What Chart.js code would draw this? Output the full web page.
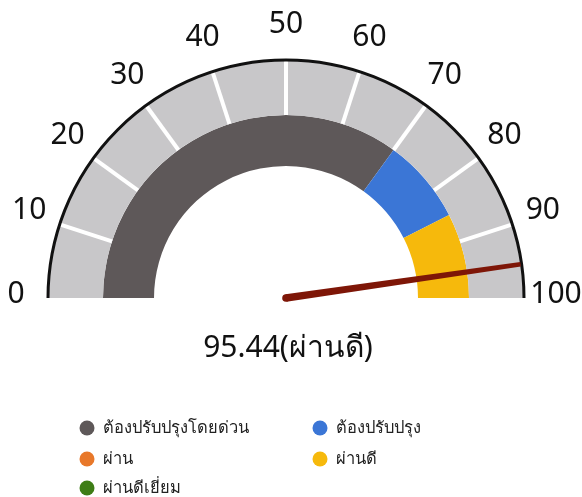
<!DOCTYPE html>
<html>
<head>
<meta charset="utf-8">
<script src="https://cdn.jsdelivr.net/npm/chart.js@4.4.1/dist/chart.umd.min.js"></script>
<style>
  html, body { margin: 0; padding: 0; background: #ffffff; }
  #wrap { width: 582px; height: 497px; position: relative; }
</style>
</head>
<body>
<div id="wrap"><canvas id="c" width="582" height="497"></canvas></div>
<script>
// ---- data ----
const categories = ['ต้องปรับปรุงโดยด่วน', 'ต้องปรับปรุง', 'ผ่าน', 'ผ่านดี', 'ผ่านดีเยี่ยม'];
const bandValues = [70, 15, 0, 15, 0];
const categoryColors = ['#5e5859', '#3b76d6', '#e8782a', '#f6b90c', '#3e7d16'];
const scaleMax = 100;
const trackValues = [100];
const tickValues = [10, 20, 30, 40, 50, 60, 70, 80, 90];
const tickLabels = ['0', '10', '20', '30', '40', '50', '60', '70', '80', '90', '100'];
const gaugeValue = 95.44;
const gaugeText = '95.44(ผ่านดี)';

const FONT = "'Noto Sans', 'Open Sans', sans-serif";

const gaugeExtras = {
  id: 'gaugeExtras',
  afterDatasetsDraw(chart) {
    const ctx = chart.ctx;
    const outerArc = chart.getDatasetMeta(0).data[0];
    const bandArc = chart.getDatasetMeta(1).data[0];
    const cx = outerArc.x, cy = outerArc.y;
    const R = outerArc.outerRadius;
    const rBand = bandArc.outerRadius;
    const ang = v => Math.PI + (v / scaleMax) * Math.PI;

    ctx.save();
    // white tick separators
    ctx.strokeStyle = '#ffffff';
    ctx.lineWidth = 4;
    tickValues.forEach(v => {
      const a = ang(v);
      ctx.beginPath();
      ctx.moveTo(cx + rBand * Math.cos(a), cy + rBand * Math.sin(a));
      ctx.lineTo(cx + R * Math.cos(a), cy + R * Math.sin(a));
      ctx.stroke();
    });
    // black outer rim
    ctx.strokeStyle = '#111111';
    ctx.lineWidth = 3;
    ctx.beginPath();
    ctx.arc(cx, cy, R, Math.PI, 2 * Math.PI);
    ctx.stroke();

    // tick labels
    ctx.fillStyle = '#111111';
    ctx.font = '30px ' + FONT;
    ctx.textAlign = 'center';
    ctx.textBaseline = 'middle';
    tickLabels.forEach((t, i) => {
      const v = i * scaleMax / (tickLabels.length - 1);
      const a = ang(v);
      const r = R + 32;
      ctx.fillText(t, cx + r * Math.cos(a), cy + r * Math.sin(a) - 4);
    });

    // needle
    const a = ang(gaugeValue);
    const len = R - 1;
    const nx = Math.cos(a), ny = Math.sin(a);
    const px = -ny, py = nx;
    const w0 = 3.8, w1 = 2.3;
    ctx.fillStyle = '#7e1607';
    ctx.beginPath();
    ctx.moveTo(cx + px * w0, cy + py * w0);
    ctx.lineTo(cx + nx * len + px * w1, cy + ny * len + py * w1);
    ctx.lineTo(cx + nx * len - px * w1, cy + ny * len - py * w1);
    ctx.lineTo(cx - px * w0, cy - py * w0);
    ctx.closePath();
    ctx.fill();
    ctx.beginPath();
    ctx.arc(cx, cy, w0, 0, 2 * Math.PI);
    ctx.fill();

    // value text
    ctx.fillStyle = '#111111';
    ctx.font = '30px ' + FONT;
    ctx.fillText(gaugeText, cx + 2, cy + 50);

    // legend (two-column grid)
    const bandDs = chart.data.datasets[1];
    const cols = [87, 320];
    const rows = [428, 459, 488];
    ctx.font = '16.5px ' + FONT;
    ctx.textAlign = 'left';
    chart.data.labels.forEach((lab, i) => {
      const col = i % 2, row = Math.floor(i / 2);
      const x = cols[col], y = rows[row];
      ctx.fillStyle = bandDs.backgroundColor[i];
      ctx.beginPath();
      ctx.arc(x, y, 7.5, 0, 2 * Math.PI);
      ctx.fill();
      ctx.fillStyle = '#222222';
      ctx.fillText(lab, x + 16, y);
    });
    ctx.restore();
  }
};

new Chart(document.getElementById('c'), {
  type: 'doughnut',
  data: {
    labels: categories,
    datasets: [
      { data: trackValues, backgroundColor: ['#c8c7c9'], borderWidth: 0, weight: 55 },
      { data: bandValues, backgroundColor: categoryColors, borderWidth: 0, weight: 51 }
    ]
  },
  options: {
    responsive: false,
    animation: false,
    events: [],
    rotation: -90,
    circumference: 180,
    cutout: '55.46%',
    layout: { padding: { left: 48, right: 58, top: 60, bottom: 199 } },
    plugins: { legend: { display: false }, tooltip: { enabled: false } }
  },
  plugins: [gaugeExtras]
});
</script>
</body>
</html>
